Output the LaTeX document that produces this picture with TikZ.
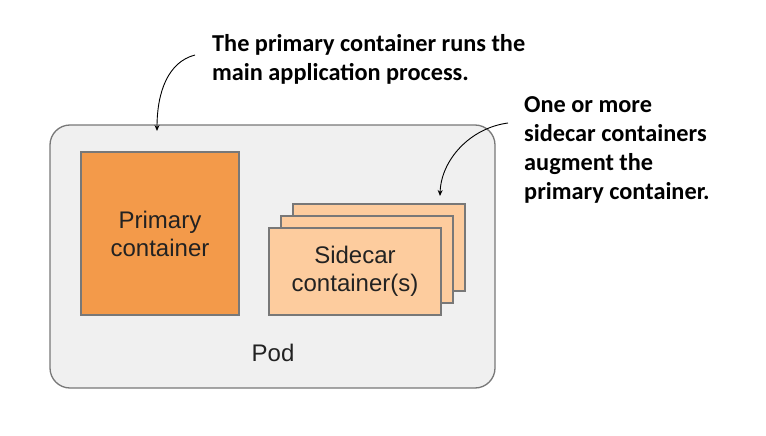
\documentclass[tikz,border=0pt]{standalone}
\usepackage{fontspec}
\setmainfont{Liberation Sans}
\newfontfamily\notefont{Carlito}
\usetikzlibrary{arrows.meta}
\definecolor{podfill}{HTML}{F0F0F0}
\definecolor{boxline}{HTML}{787878}
\definecolor{primfill}{HTML}{F39A4A}
\definecolor{sidefill}{HTML}{FDCC9E}
\definecolor{boxtext}{HTML}{222222}
\begin{document}
\begin{tikzpicture}[x=1pt,y=-1pt,
  box/.style={draw=boxline,line width=1.3pt,align=center,text=boxtext,font=\fontsize{24}{28}\selectfont},
  note/.style={anchor=base west,align=left,inner sep=0,font=\notefont\bfseries\fontsize{24.3}{29}\selectfont},
  callout/.style={-{Stealth[length=6pt,width=5pt]},line width=0.9pt}]
\useasboundingbox (0,0) rectangle (766,436);
\node[box,fill=podfill,rounded corners=20pt,minimum width=445pt,minimum height=263pt] (pod) at (272.5,256.5) {};
\node[text=boxtext,font=\fontsize{24}{28}\selectfont] (podlabel) at (273,353) {Pod};
\node[box,fill=primfill,minimum width=158pt,minimum height=163pt] (primary) at (160,233.5) {Primary\\container};
\node[box,fill=sidefill,minimum width=172pt,minimum height=87pt] (side3) at (379,247.5) {};
\node[box,fill=sidefill,minimum width=172pt,minimum height=87pt] (side2) at (367,259.5) {};
\node[box,fill=sidefill,minimum width=172pt,minimum height=87pt] (side1) at (355,271.5) {Sidecar\\container(s)};
% base of a note is its last line
\node[note] (noteprim) at (212,81) {The primary container runs the\\main application process.};
\node[note] (noteside) at (524,199) {One or more\\sidecar containers\\augment the\\primary container.};
\coordinate (aprim) at (195,55);
\coordinate (bprim) at (157,131);
\coordinate (aside) at (508,123);
\coordinate (bside) at (440,196);
\draw[callout] (aprim) .. controls (168,62) and (157,92) .. (bprim);
\draw[callout] (aside) .. controls (470,128) and (441,160) .. (bside);
\end{tikzpicture}
\end{document}
